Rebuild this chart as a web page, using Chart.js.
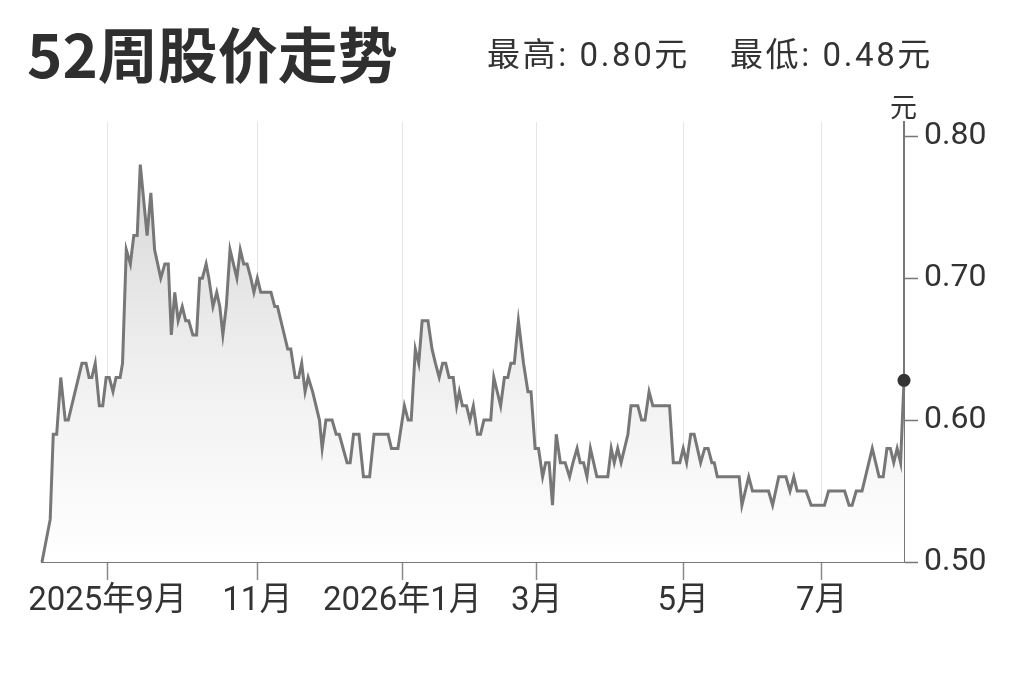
<!DOCTYPE html>
<html>
<head>
<meta charset="utf-8">
<script src="https://cdn.jsdelivr.net/npm/chart.js@4.4.1/dist/chart.umd.min.js"></script>
<style>
  html, body { margin: 0; padding: 0; background: #fff; }
  body { width: 1023px; height: 682px; position: relative; overflow: hidden; font-family: "Noto Sans CJK SC", "Noto Sans", sans-serif; color: #333; }
  #wrap { position: absolute; left: 0; top: 0; width: 1023px; height: 682px; }
  .txt { position: absolute; white-space: nowrap; }
  #title { left: 27px; top: 20px; font-size: 60px; line-height: 64px; font-weight: 700; color: #2f2f2f; }
  .stat { top: 35px; font-size: 33px; line-height: 40px; color: #333; font-family: Roboto, "Noto Sans CJK SC", sans-serif; letter-spacing: 2.6px; }
  #hi { left: 487px; }
  #lo { left: 730px; }
  #unit { left: 890px; top: 90px; font-size: 27px; line-height: 32px; color: #333; }
</style>
</head>
<body>
<div id="wrap"><canvas id="c" width="1023" height="682"></canvas></div>
<div id="title" class="txt">52周股价走势</div>
<div id="hi" class="txt stat">最高: 0.80元</div>
<div id="lo" class="txt stat">最低: 0.48元</div>
<div id="unit" class="txt">元</div>
<script>
// x = trading-day index within the 52-week window
const tradingDay = [
  0,2.4,3.3,4.3,5.5,6.8,7.7,11.7,12.9,13.8,14.6,15.6,16.8,17.8,18.8,19.7,20.8,21.7,22.9,23.6,
  24.7,25.9,26.9,27.9,28.8,30.8,31.9,33.0,34.8,36.0,37.0,37.9,38.9,39.9,41.1,42.1,43.0,44.2,45.3,46.2,
  47.0,48.1,
  48.9,50.1,51.2,52.1,53.0,54.0,55.1,56.1,57.1,58.1,59.1,60.1,61.2,62.1,63.1,64.1,67.1,68.2,69.0,72.0,
  72.9,74.2,75.2,76.1,77.1,78.0,79.3,81.3,82.1,83.2,85.0,86.2,87.1,89.4,90.3,91.3,92.9,94.2,96.0,97.3,
  101.4,
  102.4,104.3,106.2,107.3,108.2,109.4,110.4,111.4,113.1,114.3,115.3,116.4,117.4,118.3,119.3,120.5,121.5,122.3,123.2,124.4,
  125.4,126.4,127.6,128.5,129.5,131.5,132.4,134.4,135.5,136.5,137.4,138.4,139.6,141.1,142.4,143.3,144.5,145.5,146.7,147.6,
  148.6,149.6,150.7,
  151.9,153.3,154.6,155.6,156.8,157.7,158.7,159.7,160.7,162.6,165.8,166.8,167.7,168.7,169.7,171.7,172.6,174.6,175.7,176.7,
  177.9,179.0,183.9,185.0,186.9,187.9,188.9,190.1,191.1,193.0,194.2,195.2,196.3,197.0,197.9,
  204.3,205.1,207.1,208.2,212.9,214.1,215.9,218.0,219.2,220.3,221.3,223.9,225.4,229.3,230.5,235.2,236.5,237.4,238.6,240.3,
  243.3,245.3,246.5,247.6,248.6,249.6,250.6,251.6,252.6
];
const closePrice = [
  0.50,0.53,0.59,0.59,0.63,0.60,0.60,0.64,0.64,0.63,0.63,0.64,0.61,0.61,0.63,0.63,0.62,0.63,0.63,0.64,
  0.72,0.71,0.73,0.73,0.78,0.73,0.76,0.72,0.70,0.71,0.71,0.66,0.69,0.67,0.68,0.67,0.67,0.66,0.66,0.70,
  0.70,0.71,
  0.70,0.68,0.69,0.68,0.66,0.68,0.72,0.71,0.70,0.72,0.71,0.71,0.70,0.69,0.70,0.69,0.69,0.68,0.68,0.65,
  0.65,0.63,0.63,0.64,0.62,0.63,0.62,0.60,0.58,0.60,0.60,0.59,0.59,0.57,0.57,0.59,0.59,0.56,0.56,0.59,
  0.59,
  0.58,0.58,0.61,0.60,0.60,0.65,0.64,0.67,0.67,0.65,0.64,0.63,0.64,0.64,0.63,0.63,0.61,0.62,0.61,0.61,
  0.60,0.61,0.59,0.59,0.60,0.60,0.63,0.61,0.63,0.63,0.64,0.64,0.67,0.64,0.62,0.62,0.58,0.58,0.56,0.57,
  0.57,0.54,0.59,
  0.57,0.57,0.56,0.57,0.58,0.57,0.57,0.56,0.58,0.56,0.56,0.58,0.57,0.58,0.57,0.59,0.61,0.61,0.60,0.60,
  0.62,0.61,0.61,0.57,0.57,0.58,0.57,0.59,0.59,0.57,0.58,0.58,0.57,0.57,0.56,
  0.56,0.54,0.56,0.55,0.55,0.54,0.56,0.56,0.55,0.56,0.55,0.55,0.54,0.54,0.55,0.55,0.54,0.54,0.55,0.55,
  0.58,0.56,0.56,0.58,0.58,0.57,0.58,0.57,0.628
];
const monthTickDay = [19.2, 63.1, 105.6, 145.0, 187.9, 228.5];
const monthLabels = ['2025年9月', '11月', '2026年1月', '3月', '5月', '7月'];
const priceTicks = [0.50, 0.60, 0.70, 0.80];
const priceMin = 0.50;
const priceMax = 0.81;

const points = tradingDay.map((d, i) => ({ x: d, y: closePrice[i] }));
const lastIdx = points.length - 1;
const yFont = { family: 'Roboto, "Noto Sans CJK SC", sans-serif', size: 32 };
const xFont = { family: 'Roboto, "Noto Sans CJK SC", sans-serif', size: 33 };

new Chart(document.getElementById('c'), {
  type: 'line',
  data: {
    datasets: [{
      data: points,
      borderColor: '#777777',
      borderWidth: 3,
      tension: 0,
      fill: 'start',
      clip: false,
      backgroundColor: (ctx) => {
        const a = ctx.chart.chartArea;
        if (!a) return 'rgba(0,0,0,0)';
        const g = ctx.chart.ctx.createLinearGradient(0, a.top, 0, a.bottom);
        g.addColorStop(0, '#d2d2d2');
        g.addColorStop(0.55, '#efefef');
        g.addColorStop(1, '#ffffff');
        return g;
      },
      pointRadius: (ctx) => ctx.dataIndex === lastIdx ? 6.5 : 0,
      pointHoverRadius: 0,
      pointBackgroundColor: '#333',
      pointBorderWidth: 0
    }]
  },
  options: {
    responsive: false,
    animation: false,
    events: [],
    layout: { padding: { top: 122, left: 42, right: 0, bottom: 0 } },
    plugins: { legend: { display: false }, tooltip: { enabled: false } },
    scales: {
      x: {
        type: 'linear',
        min: 0,
        max: 252.6,
        afterBuildTicks: (s) => { s.ticks = monthTickDay.map(v => ({ value: v })); },
        afterFit: (s) => { s.height = 120; },
        ticks: {
          autoSkip: false,
          maxRotation: 0,
          padding: 2,
          color: '#333',
          font: xFont,
          callback: (v, i) => monthLabels[i]
        },
        grid: {
          color: '#e6e6e6',
          lineWidth: 1,
          drawOnChartArea: true,
          tickColor: '#8a8a8a',
          tickLength: 18,
          tickWidth: 1.5
        },
        border: { display: true, color: '#777', width: 2 }
      },
      y: {
        position: 'right',
        min: priceMin,
        max: priceMax,
        afterBuildTicks: (s) => { s.ticks = priceTicks.map(v => ({ value: v })); },
        afterFit: (s) => { s.width = 119; },
        ticks: {
          padding: 6,
          color: '#333',
          font: yFont,
          callback: (v) => Number(v).toFixed(2)
        },
        grid: {
          drawOnChartArea: false,
          tickColor: '#777',
          tickLength: 14,
          tickWidth: 1.5
        },
        border: { display: true, color: '#777', width: 2 }
      }
    }
  }
});
</script>
</body>
</html>
